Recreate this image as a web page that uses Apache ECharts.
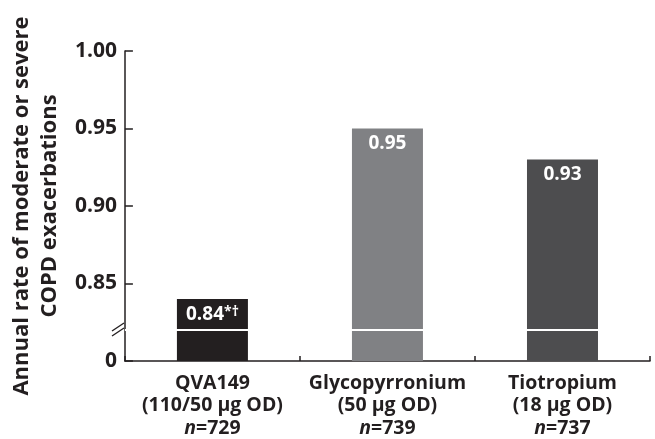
<!DOCTYPE html>
<html><head><meta charset="utf-8">
<script src="https://cdn.jsdelivr.net/npm/echarts@6/dist/echarts.min.js"></script>
<style>html,body{margin:0;padding:0;background:#fff}#c{width:655px;height:439px}</style>
</head><body><div id="c"></div>
<script>
const categories = ['QVA149', 'Glycopyrronium', 'Tiotropium'];
const doses = ['(110/50 µg OD)', '(50 µg OD)', '(18 µg OD)'];
const nValues = [729, 739, 737];
const rates = [0.84, 0.95, 0.93];
const rateLabels = ['0.84', '0.95', '0.93'];
const rateMarks = ['*†', '', ''];
const barColors = ['#231f20', '#808184', '#4d4d4f'];
const yTicks = [0.80, 0.85, 0.90, 0.95, 1.00];
const yTickLabels = ['0', '0.85', '0.90', '0.95', '1.00'];
const AXIS_MIN = 0.80, AXIS_MAX = 1.00, AXIS_STEP = 0.05;
const BREAK_VALUE = 0.82;

const FONT = '"Open Sans"';
const INK = '#231f20';
const GRID = {left: 118, right: 5, top: 51, bottom: 78};

const chart = echarts.init(document.getElementById('c'), null, {renderer: 'canvas'});
chart.setOption({
  animation: false,
  backgroundColor: '#fff',
  grid: GRID,
  xAxis: {
    type: 'category',
    data: categories,
    boundaryGap: true,
    axisLine: {lineStyle: {color: INK, width: 1.5}},
    axisTick: {show: true, inside: true, length: 5, lineStyle: {color: INK, width: 1.5}},
    axisLabel: {
      margin: 11,
      interval: 0,
      formatter: (v, i) => `{c|${v}}\n{c|${doses[i]}}\n{i|n}{c|=${nValues[i]}}`,
      rich: {
        c: {fontFamily: FONT, fontWeight: 700, fontSize: 19.5, color: INK, lineHeight: 22.5},
        i: {fontFamily: FONT, fontWeight: 700, fontStyle: 'italic', fontSize: 19.5, color: INK, lineHeight: 22.5}
      }
    }
  },
  yAxis: {
    type: 'value',
    min: AXIS_MIN, max: AXIS_MAX, interval: AXIS_STEP,
    name: 'Annual rate of moderate or severe\nCOPD exacerbations',
    nameLocation: 'middle',
    nameGap: 52,
    nameTextStyle: {fontFamily: FONT, fontWeight: 700, fontSize: 22, color: INK, lineHeight: 28},
    splitLine: {show: false},
    axisLine: {show: true, lineStyle: {color: INK, width: 1.5}},
    axisTick: {show: true, inside: true, length: 8, lineStyle: {color: INK, width: 1.5}},
    axisLabel: {
      margin: 8,
      fontFamily: FONT, fontWeight: 700, fontSize: 21, color: INK,
      formatter: v => {
        const i = yTicks.findIndex(t => Math.abs(t - v) < 1e-6);
        return i >= 0 ? yTickLabels[i] : '';
      }
    }
  },
  series: [{
    type: 'bar',
    barWidth: 71,
    data: rates.map((v, i) => ({value: v, itemStyle: {color: barColors[i]}})),
    label: {
      show: true,
      position: 'insideTop',
      distance: 6,
      formatter: p => rateMarks[p.dataIndex] ? `{v|${rateLabels[p.dataIndex]}}{s|${rateMarks[p.dataIndex]}}` : `{v|${rateLabels[p.dataIndex]}}`,
      rich: {
        v: {fontFamily: FONT, fontWeight: 700, fontSize: 19, color: '#fff'},
        s: {fontFamily: FONT, fontWeight: 700, fontSize: 14, color: '#fff', padding: [0, 0, 6, 0]}
      }
    },
    markLine: {
      silent: true,
      symbol: 'none',
      label: {show: false},
      lineStyle: {color: '#fff', width: 2, type: 'solid'},
      data: [{yAxis: BREAK_VALUE}]
    }
  }]
});

// axis break marks
const yb = chart.convertToPixel({yAxisIndex: 0}, BREAK_VALUE);
const ax = GRID.left;
chart.setOption({
  graphic: [
    {type: 'rect', shape: {x: ax - 3, y: yb - 3, width: 6, height: 6}, style: {fill: '#fff'}, z: 100},
    {type: 'line', shape: {x1: ax - 6, y1: yb + 1, x2: ax + 6, y2: yb - 7}, style: {stroke: INK, lineWidth: 1.3}, z: 101},
    {type: 'line', shape: {x1: ax - 6, y1: yb + 6, x2: ax + 6, y2: yb - 2}, style: {stroke: INK, lineWidth: 1.3}, z: 101}
  ]
});
</script></body></html>
